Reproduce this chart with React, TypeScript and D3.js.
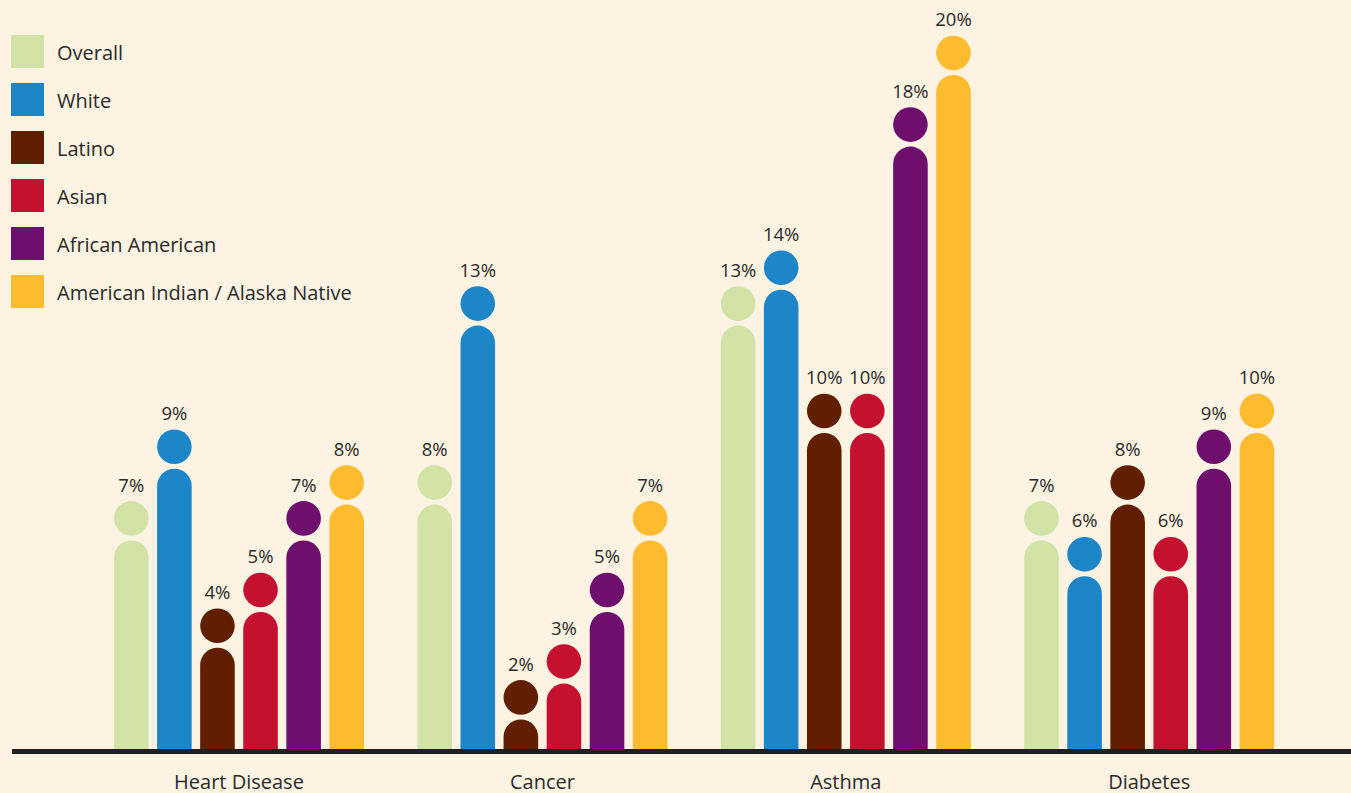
import React from "react";
import * as d3 from "d3";

const categories = ["Heart Disease", "Cancer", "Asthma", "Diabetes"];
const seriesNames = ["Overall", "White", "Latino", "Asian", "African American", "American Indian / Alaska Native"];
const seriesColors = ["#D1E3A6", "#1D86C8", "#602000", "#C3112F", "#6E0F6E", "#FDBB30"];
const overall = [7, 8, 13, 7];
const white = [9, 13, 14, 6];
const latino = [4, 2, 10, 8];
const asian = [5, 3, 10, 6];
const africanAmerican = [7, 5, 18, 9];
const americanIndian = [8, 7, 20, 10];
const series = [overall, white, latino, asian, africanAmerican, americanIndian];

const W = 1351;
const H = 793;
const baseY = 749;
const FONT = "'Open Sans', 'Noto Sans', sans-serif";
const TEXT = "#2a2a2a";

export default function App() {
  const x0 = d3.scaleBand<string>().domain(categories).range([114, 1327.6]).paddingInner(0).paddingOuter(0);
  const x1 = d3.scaleBand<string>().domain(seriesNames).range([0, 250]).paddingInner(0.197).paddingOuter(0);
  const y = d3.scaleLinear().domain([0, 20]).range([791, 75]);
  const bw = x1.bandwidth();
  const r = bw / 2;

  const barPath = (x: number, top: number) => {
    const p = d3.path();
    p.moveTo(x, baseY);
    p.lineTo(x, top + r);
    p.arc(x + r, top + r, r, Math.PI, 0);
    p.lineTo(x + bw, baseY);
    p.closePath();
    return p.toString();
  };

  return (
    <svg width={W} height={H} style={{ position: "absolute", left: 0, top: 0 }} fontFamily={FONT}>
      <rect width={W} height={H} fill="#FDF3E3" />
      {categories.map((c, ci) => (
        <g key={c} transform={`translate(${x0(c)},0)`}>
          {seriesNames.map((s, si) => {
            const v = series[si][ci];
            const bx = x1(s)!;
            const top = y(v);
            const cy = top - 22;
            return (
              <g key={s}>
                <path d={barPath(bx, top)} fill={seriesColors[si]} />
                <circle cx={bx + r} cy={cy} r={r} fill={seriesColors[si]} />
                <text x={bx + r} y={cy - r - 9.5} textAnchor="middle" fontSize={18.5} fill={TEXT}>
                  {v}%
                </text>
              </g>
            );
          })}
          <text x={125} y={788.5} textAnchor="middle" fontSize={20} fill={TEXT}>
            {c}
          </text>
        </g>
      ))}
      <line x1={12} x2={W} y1={751.5} y2={751.5} stroke="#231F20" strokeWidth={5} />
      {seriesNames.map((s, si) => (
        <g key={s} transform={`translate(11,${35 + si * 48})`}>
          <rect width={33} height={33} fill={seriesColors[si]} />
          <text x={46} y={17} dominantBaseline="central" fontSize={20} fill={TEXT}>
            {s}
          </text>
        </g>
      ))}
    </svg>
  );
}
